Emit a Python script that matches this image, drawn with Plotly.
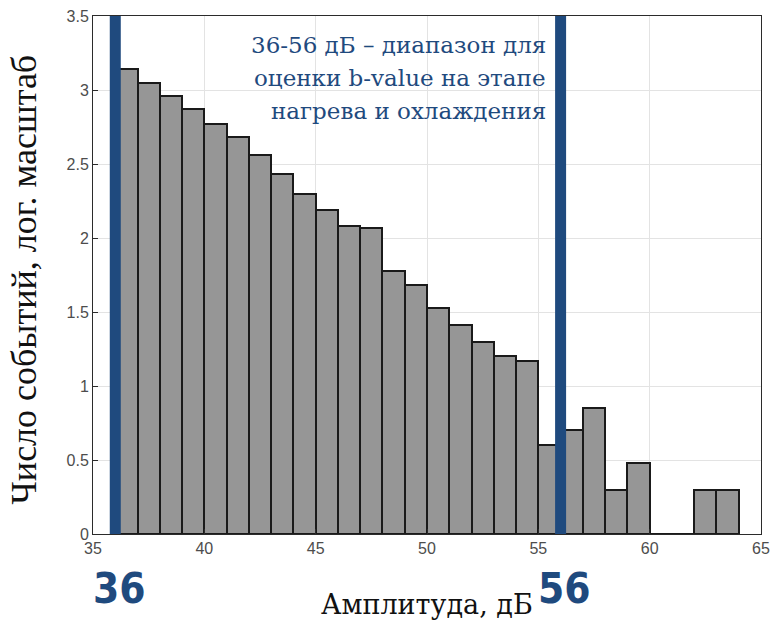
import plotly.graph_objects as go

# Data
bin_left = [36, 37, 38, 39, 40, 41, 42, 43, 44, 45, 46, 47, 48, 49,
            50, 51, 52, 53, 54, 55, 56, 57, 58, 59, 60, 61, 62, 63]
log_counts = [3.14, 3.05, 2.96, 2.87, 2.77, 2.68, 2.56, 2.43, 2.30, 2.19,
              2.08, 2.07, 1.78, 1.68, 1.53, 1.41, 1.30, 1.20, 1.17, 0.60,
              0.70, 0.85, 0.30, 0.48, 0.0, 0.0, 0.30, 0.30]
bin_width = 1
range_bounds = [36, 56]
range_labels = ["36", "56"]
x_ticks = [35, 40, 45, 50, 55, 60, 65]
y_ticks = [0, 0.5, 1, 1.5, 2, 2.5, 3, 3.5]
note_lines = ["36-56 дБ – диапазон для", "оценки b-value на этапе", "нагрева и охлаждения"]
x_title = "Амплитуда, дБ"
y_title = "Число событий, лог. масштаб"

blue = "#1f4a7e"

centers = [b + bin_width / 2 for b in bin_left]

fig = go.Figure()
fig.add_trace(go.Bar(
    x=centers, y=log_counts, width=bin_width,
    marker=dict(color="#969696", line=dict(color="#1a1a1a", width=2)),
    hoverinfo="skip",
))

for xb in range_bounds:
    fig.add_shape(type="line", x0=xb, x1=xb, y0=0, y1=3.5, xref="x", yref="y",
                  line=dict(color=blue, width=11), layer="above")

for xb, lab in zip(range_bounds, range_labels):
    fig.add_annotation(x=xb, y=-0.105, xref="x", yref="paper", text="<b>%s</b>" % lab,
                       showarrow=False, xanchor="center", yanchor="middle",
                       xshift=4,
                       font=dict(family="DejaVu Sans Condensed, Liberation Sans Narrow, Liberation Sans, sans-serif",
                                 size=42, color=blue))

for i, line in enumerate(note_lines):
    fig.add_annotation(x=55.45, y=1.0, xref="x", yref="paper", text=line,
                       showarrow=False, xanchor="right", yanchor="middle", align="right",
                       yshift=-29 - 33 * i,
                       font=dict(family="DejaVu Serif, serif", size=23, color=blue))

fig.add_annotation(x=0.5, y=-0.137, xref="paper", yref="paper", text=x_title,
                   showarrow=False, xanchor="center", yanchor="middle",
                   font=dict(family="DejaVu Serif, serif", size=27, color="#111111"))
fig.add_annotation(x=-0.104, y=0.5, xref="paper", yref="paper", text=y_title,
                   showarrow=False, textangle=-90, xanchor="center", yanchor="middle",
                   yshift=-5,
                   font=dict(family="Liberation Serif, serif", size=36, color="#111111"))

axis_common = dict(showgrid=True, gridcolor="#e3e3e3", gridwidth=1,
                   showline=True, linecolor="#2b2b2b", linewidth=1, mirror=True,
                   ticks="inside", ticklen=5, tickcolor="#2b2b2b",
                   tickfont=dict(family="Liberation Sans, Arial, sans-serif", size=16, color="#4d4d4d"),
                   zeroline=False, automargin=False)

fig.update_layout(
    width=774, height=624,
    margin=dict(l=93, r=13, t=16, b=90),
    paper_bgcolor="white", plot_bgcolor="white",
    showlegend=False,
    bargap=0,
    xaxis=dict(range=[35, 65], tickvals=x_ticks, **axis_common),
    yaxis=dict(range=[0, 3.5], tickvals=y_ticks, ticktext=[("%g" % v) for v in y_ticks], **axis_common),
)

fig.write_html("out.html")
